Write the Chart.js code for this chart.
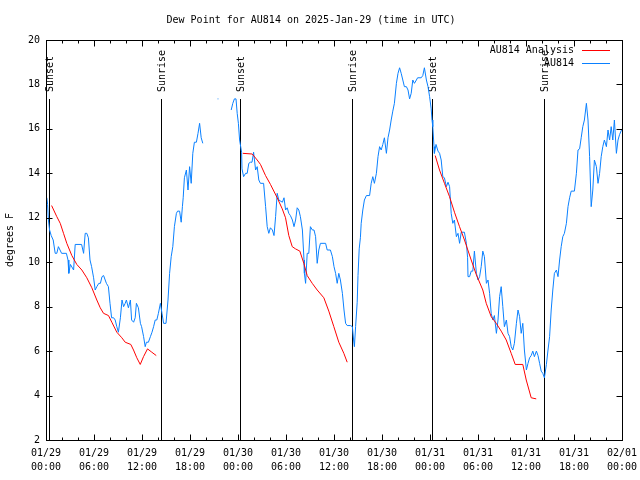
<!DOCTYPE html>
<html>
<head>
<meta charset="utf-8">
<script src="https://cdn.jsdelivr.net/npm/chart.js@4.4.1/dist/chart.umd.min.js"></script>
<style>
  html, body { margin: 0; padding: 0; background: #fff; }
</style>
</head>
<body>
<canvas id="dew" width="640" height="480"></canvas>
<script>
// x values are hours since 01/29 00:00 UTC
const dayLabels = ['01/29', '01/30', '01/31', '02/01']

// AU814 observations (null = missing)
const obsHours = [
  0.1, 0.2, 0.3, 0.45, 0.65, 0.9, 1.15, 1.35, 1.55, 1.75, 1.95, 2.55, 2.75, 2.85, 3.05, 3.45, 3.65, 4.45, 4.7, 4.9,
  5.1, 5.3, 5.5, 5.7, 5.95, 6.15, 6.35, 6.6, 6.8, 7.0, 7.2, 7.4, 7.55, 7.8, 8.0, 8.2, 8.45, 8.65, 8.85, 9.05,
  9.3, 9.5, 9.7, 9.9, 10.05, 10.3, 10.55, 10.7, 10.95, 11.15, 11.3, 11.55, 11.8, 11.95, 12.2, 12.4, 12.55, 12.8, 13.05, 13.25,
  13.45, 13.65, 13.85, 14.05, 14.3, 14.5, 14.7, 15.0, 15.25, 15.45, 15.65, 15.85, 16.05, 16.3, 16.45, 16.7, 16.9, 17.05, 17.15, 17.3,
  17.55, 17.75, 17.95, 18.15, 18.35, 18.55, 18.8, 19.0, 19.2, 19.4, 19.6, 19.8,
  21.45, 21.55, 22.0,
  23.15, 23.35, 23.55, 23.75, 23.9, 24.05, 24.2, 24.45, 24.5, 24.7, 24.95, 25.15, 25.35, 25.55, 25.75, 25.95, 26.2, 26.4, 26.6, 26.8,
  27.2, 27.45, 27.65, 27.85, 28.05, 28.3, 28.5, 28.7, 28.9, 29.1, 29.55, 29.75, 29.95, 30.15, 30.35, 30.55, 30.8, 31.0, 31.2, 31.4,
  31.6, 31.8, 32.05, 32.25, 32.3, 32.45, 32.65, 32.85, 33.05, 33.3, 33.5, 33.7, 33.9, 34.1, 34.3, 34.95, 35.15, 35.55, 35.8, 36.0,
  36.2, 36.4, 36.6, 36.8, 37.05, 37.25, 37.45, 37.65, 38.05, 38.3, 38.45, 38.55, 38.7, 38.9, 39.0, 39.15, 39.3, 39.4, 39.6, 39.8,
  40.05, 40.45, 40.65, 40.85, 41.05, 41.3, 41.5, 41.7, 41.9, 42.1, 42.3, 42.55, 42.75, 42.95, 43.15, 43.35, 43.55, 43.8, 44.0, 44.2,
  44.4, 44.6, 44.8, 45.05, 45.25, 45.45, 45.65, 45.85, 46.05, 46.3, 46.45, 46.9, 47.1, 47.3, 47.55, 47.75, 47.95, 48.15, 48.25, 48.35,
  48.5, 48.55, 48.75, 49.0, 49.2, 49.4, 49.6, 49.8, 50.05, 50.25, 50.45, 50.65, 50.85, 51.05, 51.3, 51.5, 51.7, 51.9, 52.3, 52.55,
  52.7, 52.75, 52.95, 53.15, 53.35, 53.55, 53.8, 54.0, 54.2, 54.4, 54.6, 54.8, 55.05, 55.25, 55.45, 55.65, 55.85, 56.05, 56.3, 56.5,
  56.7, 56.9, 57.1, 57.3, 57.55, 57.75, 57.95, 58.15, 58.35, 58.55, 58.8, 59.0, 59.2, 59.4, 59.6, 59.8, 60.05, 60.25, 60.45, 60.65,
  60.85, 61.05, 61.3, 61.5, 61.7, 61.9, 62.1, 62.3, 62.55, 62.75, 62.95, 63.15, 63.35, 63.55, 63.8, 64.0, 64.2, 64.4, 64.6, 64.8,
  65.05, 65.25, 65.45, 65.65, 66.05, 66.3, 66.5, 66.7, 66.9, 67.1, 67.3, 67.55, 67.75, 67.95, 68.15, 68.35, 68.55, 68.8, 69.0, 69.2,
  69.4, 69.6, 69.8, 70.05, 70.25, 70.45, 70.65, 70.85, 71.05, 71.3, 71.5, 71.7, 72.0
]
const obsDew = [
  12.9, 12.6, 11.9, 11.45, 11.2, 11.0, 10.4, 10.4, 10.7, 10.55, 10.4, 10.4, 10.1, 9.5, 9.9, 9.65, 10.8, 10.8, 10.4, 11.3,
  11.3, 11.1, 10.1, 9.8, 9.3, 8.75, 8.9, 9.05, 9.05, 9.35, 9.4, 9.2, 9.05, 8.9, 8.15, 7.5, 7.5, 7.4, 7.1, 6.85,
  7.5, 8.3, 8.0, 8.15, 8.3, 7.95, 8.3, 7.4, 7.3, 7.5, 8.15, 7.95, 7.25, 7.1, 6.65, 6.2, 6.4, 6.4, 6.65, 6.85,
  7.1, 7.4, 7.4, 7.7, 8.15, 7.7, 7.25, 7.25, 8.3, 9.5, 10.25, 10.7, 11.6, 12.2, 12.3, 12.3, 11.8, 12.5, 12.9, 13.8,
  14.15, 13.25, 14.3, 13.55, 14.9, 15.4, 15.4, 15.8, 16.25, 15.6, 15.35, null,
  17.35, 17.35, null,
  16.85, 17.15, 17.35, 17.35, 16.7, 16.25, 15.5, 14.95, 14.2, 13.85, 14.0, 14.0, 14.45, 14.5, 14.5, 14.95, 14.15, 14.3, 13.7, 13.55,
  13.55, 12.5, 11.6, 11.3, 11.55, 11.45, 11.2, 12.05, 13.1, 12.8, 12.7, 12.9, 12.35, 12.45, 12.2, 12.1, 11.9, 11.6, 11.9, 12.45,
  12.35, 12.05, 11.45, 10.1, 9.5, 9.05, 10.4, 10.4, 11.6, 11.45, 11.45, 11.15, 9.95, 10.55, 10.85, 10.85, 10.55, 10.55, 10.25, 9.8,
  9.5, 9.05, 9.5, 9.2, 8.6, 7.85, 7.25, 7.15, 7.15, 7.1, 6.5, 6.2, 7.1, 8.2, 9.4, 10.6, 11.1, 11.75, 12.35, 12.8,
  13.0, 13.0, 13.55, 13.85, 13.55, 14.0, 14.75, 15.2, 15.05, 15.3, 15.6, 14.9, 15.6, 15.95, 16.4, 16.8, 17.15, 18.05, 18.5, 18.75,
  18.5, 18.2, 17.9, 17.9, 17.75, 17.35, 17.6, 18.2, 18.05, 18.2, 18.3, 18.3, 18.4, 18.75, 18.2, 17.9, 17.45, 16.9, 16.4, 16.1,
  15.2, 14.9, 15.3, 15.0, 14.9, 14.6, 13.85, 13.8, 13.4, 13.6, 13.4, 12.2, 11.75, 11.9, 11.15, 11.3, 10.85, 11.35, 11.35, 10.85,
  10.2, 9.35, 9.35, 9.6, 9.6, 10.5, 9.5, 9.2, 9.35, 9.8, 10.5, 10.25, 9.05, 9.2, 8.6, 7.7, 7.4, 7.6, 6.8, 7.4,
  8.45, 8.9, 8.0, 7.1, 7.4, 6.8, 6.65, 6.2, 6.05, 6.35, 7.25, 7.85, 7.55, 6.8, 7.25, 6.05, 5.15, 5.45, 5.7, 5.8,
  6.0, 5.75, 6.0, 5.8, 5.45, 5.1, 5.0, 4.8, 5.4, 6.05, 6.65, 7.85, 8.75, 9.5, 9.65, 9.35, 10.1, 10.7, 11.15, 11.3,
  11.75, 12.5, 12.9, 13.2, 13.2, 14.0, 15.05, 15.1, 15.6, 16.1, 16.4, 17.15, 16.4, 14.75, 12.5, 13.25, 14.6, 14.3, 13.55, 14.0,
  14.75, 15.2, 15.5, 15.2, 15.95, 15.5, 16.1, 15.5, 16.4, 14.9, 15.5, 15.75, 16.0
]

// AU814 Analysis (one run per night)
const anaHours = [
  0.7, 1.35, 1.78, 2.19, 2.6, 3.23, 3.85, 4.48, 5.1, 5.73, 6.35, 6.78, 7.19, 7.81, 8.23, 8.85, 9.48, 9.9, 10.6, 10.94,
  11.35, 11.78, 12.19, 12.69, 13.23, 13.78, 14.0,
  24.6, 25.78, 26.4, 26.81, 27.44, 28.06, 28.9, 29.53, 29.94, 30.35, 30.78, 31.19, 31.73, 32.23, 32.65, 33.28, 33.9, 34.73, 35.35,
  35.98, 36.6, 37.23, 37.65, 38.0,
  48.65, 49.19, 49.81, 50.44, 51.06, 51.69, 52.31, 53.15, 53.78, 54.6, 55.03, 55.65, 56.28, 56.9, 57.53, 58.15, 58.65, 59.6, 60.03, 60.65,
  61.28
]
const anaDew = [
  12.55, 12.05, 11.75, 11.3, 10.85, 10.3, 9.9, 9.65, 9.3, 8.85, 8.3, 7.95, 7.7, 7.6, 7.3, 6.85, 6.6, 6.4, 6.3, 6.05,
  5.7, 5.4, 5.75, 6.1, 5.95, 5.8, null,
  14.9, 14.87, 14.6, 14.4, 13.9, 13.5, 12.9, 12.4, 12.0, 11.2, 10.7, 10.6, 10.5, 9.95, 9.4, 9.05, 8.75, 8.4, 7.8,
  7.1, 6.4, 5.9, 5.5, null,
  14.8, 14.15, 13.55, 12.95, 12.25, 11.6, 11.0, 10.1, 9.45, 8.75, 8.15, 7.55, 7.25, 6.9, 6.5, 5.9, 5.4, 5.4, 4.7, 3.9,
  3.85
]

const sunHours = [0.35, 14.35, 24.28, 38.28, 48.23, 62.23]
const sunLabels = ['Sunset', 'Sunrise', 'Sunset', 'Sunrise', 'Sunset', 'Sunrise']

const mono = "'DejaVu Sans Mono', 'Liberation Mono', monospace"
const toPoints = (xs, ys) => xs.map((h, i) => ({ x: h, y: ys[i] }))

// sunrise / sunset markers
const sunLines = {
  id: 'sunLines',
  beforeDatasetsDraw(chart) {
    const { ctx, chartArea: a, scales: { x } } = chart
    ctx.save()
    ctx.strokeStyle = '#000'
    ctx.lineWidth = 1
    ctx.fillStyle = '#000'
    ctx.font = '10px ' + mono
    sunHours.forEach((h, i) => {
      const px = Math.round(x.getPixelForValue(h)) + 0.5
      ctx.beginPath()
      ctx.moveTo(px, a.top + 59)
      ctx.lineTo(px, a.bottom)
      ctx.stroke()
      ctx.save()
      ctx.translate(px + 1, a.top + 52)
      ctx.rotate(-Math.PI / 2)
      ctx.textAlign = 'left'
      ctx.textBaseline = 'middle'
      ctx.fillText(sunLabels[i], 0, 0)
      ctx.restore()
    })
    ctx.restore()
  }
}

// gnuplot style frame, inward ticks and legend
const frame = {
  id: 'frame',
  afterDatasetsDraw(chart) {
    const { ctx, chartArea: a, scales: { x, y } } = chart
    const L = Math.round(a.left) + 0.5, R = Math.round(a.right) + 0.5
    const T = Math.round(a.top) + 0.5, B = Math.round(a.bottom) + 0.5
    ctx.save()
    ctx.strokeStyle = '#000'
    ctx.lineWidth = 1
    ctx.strokeRect(L, T, R - L, B - T)
    ctx.beginPath()
    x.ticks.forEach(t => {
      const px = Math.round(x.getPixelForValue(t.value)) + 0.5
      const len = t.value % 6 === 0 ? 6 : 3
      ctx.moveTo(px, B); ctx.lineTo(px, B - len)
      ctx.moveTo(px, T); ctx.lineTo(px, T + len)
    })
    y.ticks.forEach(t => {
      const py = Math.round(y.getPixelForValue(t.value)) + 0.5
      ctx.moveTo(L, py); ctx.lineTo(L + 6, py)
      ctx.moveTo(R, py); ctx.lineTo(R - 6, py)
    })
    ctx.stroke()

    // legend
    ctx.font = '10px ' + mono
    ctx.textAlign = 'right'
    ctx.textBaseline = 'middle'
    chart.data.datasets.forEach((ds, i) => {
      const ly = a.top + 10 + i * 13
      ctx.fillStyle = '#000'
      ctx.fillText(ds.label, a.right - 48, ly)
      ctx.strokeStyle = ds.borderColor
      ctx.beginPath()
      ctx.moveTo(a.right - 40, Math.round(ly) + 0.5)
      ctx.lineTo(a.right - 12, Math.round(ly) + 0.5)
      ctx.stroke()
    })
    ctx.restore()
  }
}

new Chart(document.getElementById('dew'), {
  type: 'line',
  data: {
    datasets: [{
      label: 'AU814 Analysis',
      data: toPoints(anaHours, anaDew),
      borderColor: '#ff0000',
      borderWidth: 1,
      pointRadius: 0,
      tension: 0,
      spanGaps: false
    }, {
      label: 'AU814',
      data: toPoints(obsHours, obsDew),
      borderColor: '#0a80ff',
      borderWidth: 1,
      pointRadius: 0,
      tension: 0,
      spanGaps: false
    }]
  },
  options: {
    responsive: false,
    animation: false,
    devicePixelRatio: 1,
    layout: { padding: { left: 0, right: 18, top: 0, bottom: 0 } },
    plugins: {
      legend: { display: false },
      tooltip: { enabled: false },
      title: {
        display: true,
        text: 'Dew Point for AU814 on 2025-Jan-29 (time in UTC)',
        color: '#000',
        font: { family: mono, size: 10, weight: 'normal', lineHeight: 1.2 },
        padding: { top: 14, bottom: 14 }
      }
    },
    scales: {
      x: {
        type: 'linear',
        min: 0,
        max: 72,
        afterFit: s => { s.height = 40; s.paddingRight = 0; s.paddingLeft = 0 },
        grid: { display: false, drawTicks: false },
        border: { display: false },
        ticks: {
          stepSize: 2,
          autoSkip: false,
          maxRotation: 0,
          padding: 6,
          color: '#000',
          font: { family: mono, size: 10, lineHeight: 1.4 },
          callback: v => v % 6 === 0
            ? [dayLabels[Math.floor(v / 24)], String(v % 24).padStart(2, '0') + ':00']
            : ''
        }
      },
      y: {
        min: 2,
        max: 20,
        afterFit: s => { s.width = 46 },
        grid: { display: false, drawTicks: false },
        border: { display: false },
        ticks: {
          stepSize: 2,
          padding: 6,
          color: '#000',
          font: { family: mono, size: 10 }
        },
        title: {
          display: true,
          text: 'degrees F',
          color: '#000',
          font: { family: mono, size: 10, lineHeight: 1.2 },
          padding: { top: 4, bottom: 0 }
        }
      }
    }
  },
  plugins: [sunLines, frame]
})
</script>
</body>
</html>
